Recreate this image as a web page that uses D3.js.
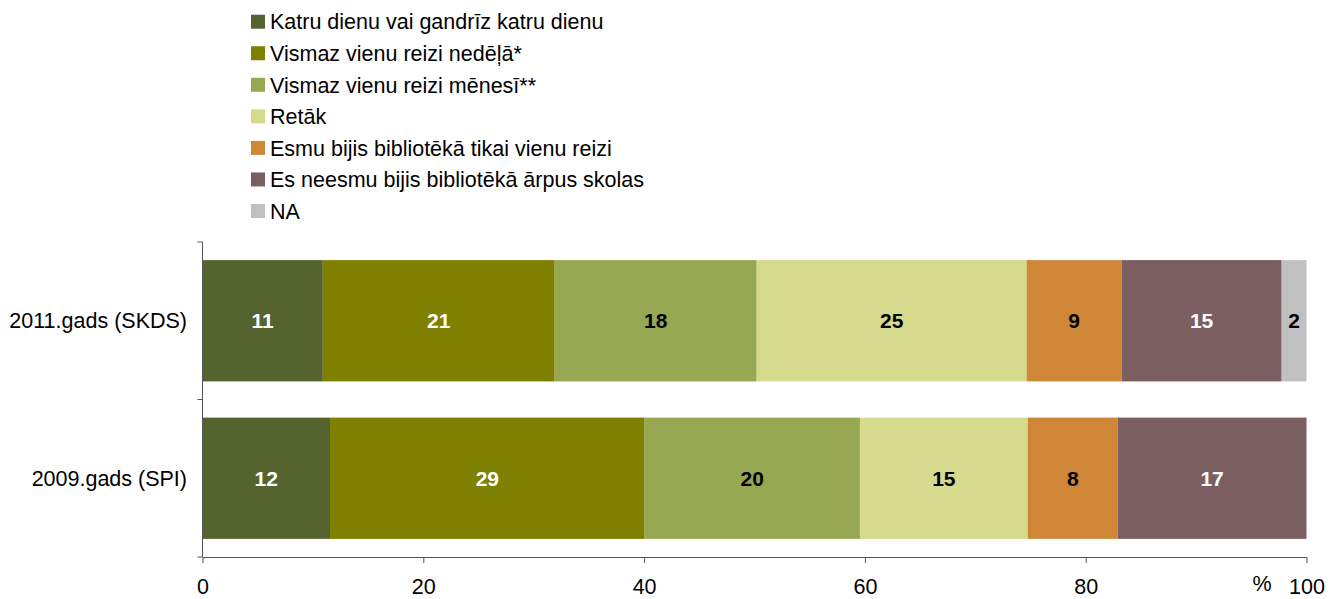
<!DOCTYPE html>
<html lang="lv">
<head>
<meta charset="utf-8">
<title>Bibliotēkas apmeklējums</title>
<script src="https://d3js.org/d3.v7.min.js"></script>
<style>
  body { margin: 0; background: #fff; }
  text { font-family: "Liberation Sans", Arial, sans-serif; }
</style>
</head>
<body>
<script>
var w = 1338, h = 599;

var categories = ["2011.gads (SKDS)", "2009.gads (SPI)"];
var seriesNames = [
  "Katru dienu vai gandrīz katru dienu",
  "Vismaz vienu reizi nedēļā*",
  "Vismaz vienu reizi mēnesī**",
  "Retāk",
  "Esmu bijis bibliotēkā tikai vienu reizi",
  "Es neesmu bijis bibliotēkā ārpus skolas",
  "NA"
];
var colors = ["#55632F", "#7F7F00", "#97A853", "#D5DA8D", "#CF8636", "#7B5E5F", "#C0C0C0"];
var labelColors = ["#fff", "#fff", "#000", "#000", "#000", "#fff", "#000"];

var values2011 = [10.9, 21.0, 18.3, 24.45, 8.6, 14.5, 2.25];
var labels2011 = [11, 21, 18, 25, 9, 15, 2];
var values2009 = [11.55, 28.5, 19.5, 15.2, 8.15, 17.1, 0];
var labels2009 = [12, 29, 20, 15, 8, 17, null];
var xTicks = [0, 20, 40, 60, 80, 100];

var rows = [
  {cat: categories[0], values: values2011, labels: labels2011},
  {cat: categories[1], values: values2009, labels: labels2009}
];

var fs = "21.5px";
var margin = {left: 202.5, right: 31.5, top: 242, bottom: 42};

var svg = d3.select("body").append("svg")
  .attr("width", w)
  .attr("height", h);

var x = d3.scaleLinear().domain([0, 100]).range([margin.left, w - margin.right]);
var y = d3.scaleBand().domain(categories)
  .range([margin.top, h - margin.bottom])
  .paddingInner(0.23)
  .paddingOuter(0.115);

// segments
rows.forEach(function(r) {
  var acc = 0;
  var segs = r.values.map(function(v, i) {
    var s = {x0: acc, x1: acc + v, i: i, label: r.labels[i]};
    acc += v;
    return s;
  }).filter(function(s) { return s.x1 > s.x0; });

  var g = svg.append("g");
  g.selectAll("rect")
    .data(segs)
    .enter().append("rect")
    .attr("x", function(d) { return x(d.x0); })
    .attr("width", function(d) { return x(d.x1) - x(d.x0); })
    .attr("y", y(r.cat))
    .attr("height", y.bandwidth())
    .attr("fill", function(d) { return colors[d.i]; });

  g.selectAll("text")
    .data(segs)
    .enter().append("text")
    .attr("x", function(d) { return (x(d.x0) + x(d.x1)) / 2; })
    .attr("y", y(r.cat) + y.bandwidth() / 2)
    .attr("dy", "0.36em")
    .attr("text-anchor", "middle")
    .attr("font-weight", "bold")
    .attr("font-size", "21px")
    .attr("fill", function(d) { return labelColors[d.i]; })
    .text(function(d) { return d.label; });
});

// bottom axis
var xAxis = svg.append("g")
  .attr("transform", "translate(0," + (h - margin.bottom) + ")")
  .call(d3.axisBottom(x).tickValues(xTicks).tickSize(6).tickPadding(16).tickSizeOuter(0));
xAxis.select(".domain").attr("stroke", "#555");
xAxis.selectAll(".tick line").attr("stroke", "#555");
xAxis.selectAll(".tick text")
  .attr("font-size", fs)
  .attr("font-family", "Liberation Sans, Arial, sans-serif")
  .attr("fill", "#000");

svg.append("text")
  .attr("x", 1262)
  .attr("y", 591)
  .attr("text-anchor", "middle")
  .attr("font-size", fs)
  .text("%");

// left axis: ticks at category boundaries
var yAxisG = svg.append("g");
yAxisG.append("line")
  .attr("x1", margin.left).attr("x2", margin.left)
  .attr("y1", margin.top).attr("y2", h - margin.bottom)
  .attr("stroke", "#555");
var bounds = [margin.top, (y(categories[0]) + y.bandwidth() + y(categories[1])) / 2, h - margin.bottom];
yAxisG.selectAll(".bt")
  .data(bounds)
  .enter().append("line")
  .attr("x1", margin.left - 5).attr("x2", margin.left)
  .attr("y1", function(d) { return d; }).attr("y2", function(d) { return d; })
  .attr("stroke", "#555");
yAxisG.selectAll(".cl")
  .data(categories)
  .enter().append("text")
  .attr("x", 187)
  .attr("y", function(d) { return y(d) + y.bandwidth() / 2; })
  .attr("dy", "0.36em")
  .attr("text-anchor", "end")
  .attr("font-size", fs)
  .text(function(d) { return d; });

// legend
var legend = svg.selectAll(".legend")
  .data(seriesNames)
  .enter().append("g")
  .attr("class", "legend")
  .attr("transform", function(d, i) { return "translate(251," + (21.7 + i * 31.55) + ")"; });
legend.append("rect")
  .attr("x", 0).attr("y", -7)
  .attr("width", 14).attr("height", 14)
  .attr("fill", function(d, i) { return colors[i]; });
legend.append("text")
  .attr("x", 19)
  .attr("y", 0)
  .attr("dy", "0.36em")
  .attr("font-size", fs)
  .text(function(d) { return d; });
</script>
</body>
</html>
